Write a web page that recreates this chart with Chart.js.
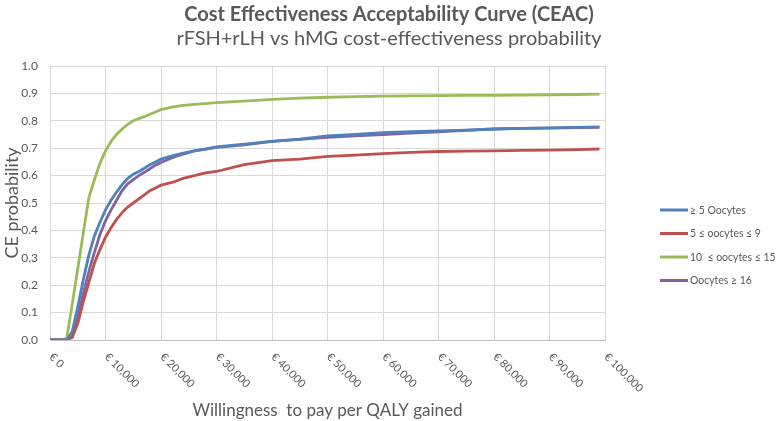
<!DOCTYPE html>
<html>
<head>
<meta charset="utf-8">
<script src="https://cdn.jsdelivr.net/npm/chart.js@4/dist/chart.umd.min.js"></script>
<style>
  html, body { margin: 0; padding: 0; background: #fff; }
  #wrap { width: 778px; height: 421px; position: relative; }
</style>
</head>
<body>
<div id="wrap"><canvas id="ceac"></canvas></div>
<script>
// Willingness to pay (euro) at which each curve was read
const wtp = [0, 1000, 2000, 3000, 4000, 5000, 6000, 7000, 8000, 9000, 10000,
    11000, 12000, 13000, 14000, 15000, 16000, 17000, 18000, 19000, 20000,
    22000, 24000, 26000, 28000, 30000,
    35000, 40000, 45000, 50000, 55000, 60000, 65000, 70000, 75000, 80000, 85000, 90000, 95000,
    99000];

// CE probability per subgroup
const atLeast5 = [0, 0, 0, 0, 0.03, 0.12, 0.22, 0.31, 0.38, 0.43, 0.475,
    0.51, 0.54, 0.567, 0.59, 0.605, 0.615, 0.627, 0.64, 0.65, 0.66,
    0.672, 0.682, 0.69, 0.697, 0.705,
    0.715, 0.725, 0.733, 0.745, 0.75, 0.757, 0.76, 0.763, 0.766, 0.77, 0.772, 0.774, 0.776,
    0.778];
const from5to9 = [0, 0, 0, 0, 0.01, 0.06, 0.14, 0.21, 0.28, 0.33, 0.375,
    0.41, 0.44, 0.465, 0.485, 0.50, 0.515, 0.53, 0.545, 0.555, 0.565,
    0.575, 0.59, 0.60, 0.61, 0.615,
    0.64, 0.655, 0.66, 0.67, 0.675, 0.68, 0.685, 0.688, 0.689, 0.69, 0.692, 0.693, 0.695,
    0.697];
const from10to15 = [0, 0, 0, 0.005, 0.13, 0.26, 0.39, 0.52, 0.585, 0.645, 0.69,
    0.725, 0.75, 0.77, 0.787, 0.80, 0.808, 0.815, 0.824, 0.832, 0.841,
    0.85, 0.856, 0.86, 0.863, 0.866,
    0.872, 0.878, 0.883, 0.886, 0.888, 0.89, 0.891, 0.892, 0.893, 0.893, 0.894, 0.895, 0.896,
    0.897];
const atLeast16 = [0, 0, 0, 0, 0.01, 0.08, 0.17, 0.25, 0.32, 0.385, 0.435,
    0.475, 0.51, 0.545, 0.57, 0.585, 0.60, 0.612, 0.625, 0.638, 0.648,
    0.665, 0.678, 0.69, 0.697, 0.703,
    0.712, 0.725, 0.732, 0.74, 0.745, 0.75, 0.755, 0.76, 0.765, 0.77, 0.772, 0.773, 0.775,
    0.776];

const seriesNames = ['\u2265 5 Oocytes', '5 \u2264 oocytes \u2264 9', '10  \u2264 oocytes \u2264 15', 'Oocytes \u2265 16'];
const xTickValues = [0, 10000, 20000, 30000, 40000, 50000, 60000, 70000, 80000, 90000, 100000];

const textGrey = '#595959';
const fontFamily = 'Lato, "Open Sans", sans-serif';

const toPoints = (arr) => wtp.map((x, i) => ({ x: x, y: arr[i] }));

function line(label, values, color) {
    return {
        label: label,
        data: toPoints(values),
        borderColor: color,
        backgroundColor: color,
        borderWidth: 2.8,
        pointRadius: 0,
        tension: 0,
        fill: false
    };
}

// rotated euro labels under the x axis (going down-right like the original)
const euroLabels = {
    id: 'euroLabels',
    afterDraw(chart) {
        const ctx = chart.ctx;
        const sx = chart.scales.x;
        const bottom = chart.chartArea.bottom;
        ctx.save();
        ctx.font = '11px ' + fontFamily;
        ctx.fillStyle = textGrey;
        ctx.textAlign = 'left';
        ctx.textBaseline = 'middle';
        xTickValues.forEach(v => {
            const px = sx.getPixelForValue(v);
            ctx.save();
            ctx.translate(px + 1, bottom + 15);
            ctx.rotate(Math.PI / 4);
            ctx.fillText('\u20ac ' + v.toLocaleString('en-US'), 0, 0);
            ctx.restore();
        });
        ctx.restore();
    }
};

// legend on the right, Excel style (text squeezed a little, Calibri is narrow)
const sideLegend = {
    id: 'sideLegend',
    afterDraw(chart) {
        const ctx = chart.ctx;
        ctx.save();
        ctx.font = '12px ' + fontFamily;
        ctx.textBaseline = 'middle';
        chart.data.datasets.forEach((ds, i) => {
            const y = 210 + i * 23.5;
            ctx.strokeStyle = ds.borderColor;
            ctx.lineWidth = 3;
            ctx.beginPath();
            ctx.moveTo(660, y);
            ctx.lineTo(688, y);
            ctx.stroke();
            ctx.save();
            ctx.translate(690, y);
            ctx.scale(0.87, 1);
            ctx.fillStyle = textGrey;
            ctx.fillText(ds.label, 0, 0);
            ctx.restore();
        });
        ctx.restore();
    }
};

new Chart(document.getElementById('ceac'), {
    type: 'line',
    data: {
        datasets: [
            line(seriesNames[0], atLeast5, '#4F81BD'),
            line(seriesNames[1], from5to9, '#C0504D'),
            line(seriesNames[2], from10to15, '#9BBB59'),
            line(seriesNames[3], atLeast16, '#8064A2')
        ]
    },
    options: {
        responsive: true,
        maintainAspectRatio: false,
        animation: false,
        layout: { padding: 0 },
        plugins: {
            legend: { display: false },
            tooltip: { enabled: false },
            title: {
                display: true,
                text: 'Cost Effectiveness Acceptability Curve (CEAC)',
                color: textGrey,
                font: { family: fontFamily, size: 20, weight: 'bold' },
                padding: { top: 3, bottom: 0 }
            },
            subtitle: {
                display: true,
                text: 'rFSH+rLH vs hMG cost-effectiveness probability',
                color: textGrey,
                font: { family: fontFamily, size: 20 },
                padding: { top: 0, bottom: 15 }
            }
        },
        scales: {
            x: {
                type: 'linear',
                min: 0,
                max: 100000,
                grid: { color: '#d9d9d9', drawTicks: false },
                border: { color: '#bfbfbf' },
                ticks: { display: false, stepSize: 10000 },
                title: {
                    display: true,
                    text: 'Willingness  to pay per QALY gained',
                    color: textGrey,
                    font: { family: fontFamily, size: 17 },
                    padding: { top: 60, bottom: 0 }
                },
                afterFit: (scale) => { scale.height = 81; }
            },
            y: {
                min: 0,
                max: 1,
                grid: { color: '#d9d9d9', drawTicks: false },
                border: { color: '#d9d9d9' },
                ticks: {
                    stepSize: 0.1,
                    padding: 12,
                    color: textGrey,
                    font: { family: fontFamily, size: 12 },
                    callback: (v) => v.toFixed(1)
                },
                title: {
                    display: true,
                    text: 'CE probability',
                    color: textGrey,
                    font: { family: fontFamily, size: 18 },
                    padding: { top: 1, bottom: 0 }
                },
                afterFit: (scale) => { scale.width = 50; }
            },
            // empty right-hand axis that keeps room for the legend
            legendSpace: {
                type: 'linear',
                position: 'right',
                display: true,
                grid: { display: false },
                border: { display: false },
                ticks: { display: false },
                afterFit: (scale) => { scale.width = 173; }
            }
        }
    },
    plugins: [euroLabels, sideLegend]
});
</script>
</body>
</html>
